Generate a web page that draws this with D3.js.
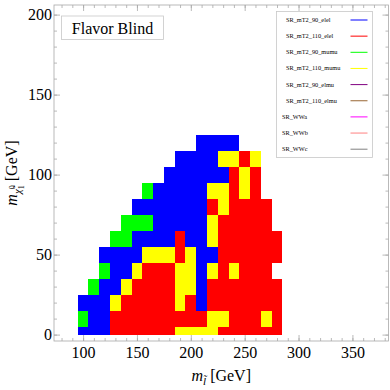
<!DOCTYPE html>
<html>
<head>
<meta charset="utf-8">
<script src="https://cdn.jsdelivr.net/npm/d3@7"></script>
<style>
  body { margin: 0; background: #fff; }
  svg { display: block; font-family: "Liberation Serif", "DejaVu Serif", serif; }
</style>
</head>
<body>
<div id="chart"></div>
<script>
// Slepton mass (columns) and neutralino mass (rows) of the scan, in GeV
const mSlepton = [100, 110, 120, 130, 140, 150, 160, 170, 180, 190, 200, 210, 220, 230, 240, 250, 260, 270, 280];
const mNeutralino = [0, 10, 20, 30, 40, 50, 60, 70, 80, 90, 100, 110, 120];

// Best signal region per point, one string per neutralino row (bottom to top)
// B = SR_mT2_90_elel, R = SR_mT2_110_elel, G = SR_mT2_90_mumu, Y = SR_mT2_110_mumu, . = none
const bestSR = [
  "BBBRRRRRRYYYYRRRRRR",
  "GBBRRRRRRRRRYYRRRYR",
  "BBBYRRRRRYRBRRRRRRR",
  ".GBBYRRRRYYBRRRRRRR",
  "..GBBYRRRYYBYRYRRR.",
  "..BBBBYYYRYBBRRRRRR",
  "...GGBBBBRBBYRRRRRR",
  "....GGGBBBBBYRRRRR.",
  ".....BBBBBBBRYRRRR.",
  "......GBBBBBYYRYR..",
  "........BBBBBBRYR..",
  ".........BBBBYYRY..",
  "...........BBBB....",
];

const codeColor = { B: "#0000ff", R: "#ff0000", G: "#00ff00", Y: "#ffff00" };

// Legend
const legendLabels = ["SR_mT2_90_elel", "SR_mT2_110_elel", "SR_mT2_90_mumu", "SR_mT2_110_mumu",
  "SR_mT2_90_elmu", "SR_mT2_110_elmu", "SR_WWa", "SR_WWb", "SR_WWc"];
const legendColors = ["#0000ff", "#ff0000", "#00ff00", "#ffff00",
  "#800080", "#996633", "#ff00ff", "#ff8080", "#808080"];

const xTicks = [100, 150, 200, 250, 300, 350];
const yTicks = [0, 50, 100, 150, 200];

const width = 390, height = 390;
const marginLeft = 54, plotRight = 388.5, marginTop = 5, plotBottom = 341;

const svg = d3.select("#chart").append("svg")
  .attr("width", width)
  .attr("height", height);

const x = d3.scaleLinear().domain([73, 383.5]).range([marginLeft, plotRight]);
const y = d3.scaleLinear().domain([-4, 206]).range([plotBottom, marginTop]);

// cells
const cells = [];
bestSR.forEach((row, j) => {
  row.split("").forEach((c, i) => {
    if (c !== ".") cells.push({ mx: mSlepton[i], my: mNeutralino[j], c });
  });
});

svg.append("g")
  .attr("shape-rendering", "crispEdges")
  .selectAll("rect")
  .data(cells)
  .join("rect")
  .attr("x", d => x(d.mx - 5))
  .attr("width", d => x(d.mx + 5) - x(d.mx - 5))
  .attr("y", d => y(d.my + 5))
  .attr("height", d => y(Math.max(0, d.my - 5)) - y(d.my + 5))
  .attr("fill", d => codeColor[d.c]);

// frame
const frameColor = "#a8a8a8";
svg.append("rect")
  .attr("x", marginLeft).attr("y", marginTop)
  .attr("width", plotRight - marginLeft).attr("height", plotBottom - marginTop)
  .attr("fill", "none").attr("stroke", frameColor).attr("stroke-width", 0.8);

function styleAxis(g) {
  g.select(".domain").remove();
  g.selectAll(".tick line").attr("stroke", frameColor).attr("stroke-width", 0.8);
  g.selectAll("text").attr("font-size", 16).attr("fill", "#000")
    .attr("font-family", "Liberation Serif");
}

const minorX = d3.range(80, 381, 10);
const minorY = d3.range(0, 201, 10);

// minor ticks on all sides
svg.append("g").attr("transform", `translate(0,${plotBottom})`)
  .call(d3.axisBottom(x).tickValues(minorX).tickSize(-3).tickFormat(""))
  .call(styleAxis);
svg.append("g").attr("transform", `translate(0,${marginTop})`)
  .call(d3.axisTop(x).tickValues(minorX).tickSize(-3).tickFormat(""))
  .call(styleAxis);
svg.append("g").attr("transform", `translate(${marginLeft},0)`)
  .call(d3.axisLeft(y).tickValues(minorY).tickSize(-3).tickFormat(""))
  .call(styleAxis);
svg.append("g").attr("transform", `translate(${plotRight},0)`)
  .call(d3.axisRight(y).tickValues(minorY).tickSize(-3).tickFormat(""))
  .call(styleAxis);

// major ticks
svg.append("g").attr("transform", `translate(0,${plotBottom})`)
  .call(d3.axisBottom(x).tickValues(xTicks).tickSize(-6).tickPadding(6))
  .call(styleAxis);
svg.append("g").attr("transform", `translate(0,${marginTop})`)
  .call(d3.axisTop(x).tickValues(xTicks).tickSize(-6).tickFormat(""))
  .call(styleAxis);
svg.append("g").attr("transform", `translate(${marginLeft},0)`)
  .call(d3.axisLeft(y).tickValues(yTicks).tickSize(-6).tickPadding(2))
  .call(styleAxis);
svg.append("g").attr("transform", `translate(${plotRight},0)`)
  .call(d3.axisRight(y).tickValues(yTicks).tickSize(-6).tickFormat(""))
  .call(styleAxis);

// axis labels
const xl = svg.append("text")
  .attr("x", (marginLeft + plotRight) / 2).attr("y", 381)
  .attr("text-anchor", "middle").attr("font-size", 16);
xl.append("tspan").attr("font-style", "italic").text("m");
xl.append("tspan").attr("font-style", "italic").attr("font-size", 11).attr("dy", 4).text("l\u0303");
xl.append("tspan").attr("dy", -4).text(" [GeV]");

const yl = svg.append("text")
  .attr("transform", `translate(17,${(marginTop + plotBottom) / 2}) rotate(-90)`)
  .attr("text-anchor", "middle").attr("font-size", 16);
yl.append("tspan").attr("font-style", "italic").text("m");
yl.append("tspan").attr("font-style", "italic").attr("font-size", 11).attr("dy", 4).text("\u03c7\u0303");
yl.append("tspan").attr("font-size", 8).attr("dy", 3).text("1");
yl.append("tspan").attr("font-size", 8).attr("dx", -4).attr("dy", -9).text("0");
yl.append("tspan").attr("dy", 2).text(" [GeV]");

// Flavor Blind box
svg.append("rect")
  .attr("x", 61.5).attr("y", 16).attr("width", 102).attr("height", 23.5)
  .attr("fill", "#fff").attr("stroke", "#c8c8c8").attr("stroke-width", 0.8);
svg.append("text")
  .attr("x", 112.5).attr("y", 33.5).attr("text-anchor", "middle")
  .attr("font-size", 16).text("Flavor Blind");

// legend
const lg = svg.append("g");
lg.append("rect")
  .attr("x", 276.5).attr("y", 11.5).attr("width", 96).attr("height", 146)
  .attr("fill", "#fff").attr("stroke", "#c8c8c8").attr("stroke-width", 0.8);
const items = lg.selectAll("g.item")
  .data(legendLabels)
  .join("g")
  .attr("class", "item")
  .attr("transform", (d, i) => `translate(0,${20 + i * 16.15})`);
items.append("text")
  .attr("x", (d, i) => i < 6 ? 286 : 282)
  .attr("y", 2)
  .attr("font-size", 6.3)
  .text(d => d);
items.append("line")
  .attr("x1", 350.5).attr("x2", 367.5)
  .attr("stroke", (d, i) => legendColors[i])
  .attr("stroke-width", 1);
</script>
</body>
</html>
